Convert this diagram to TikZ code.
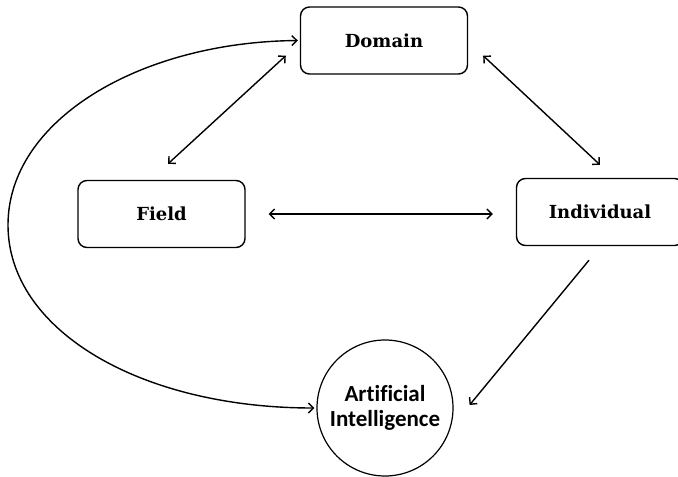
\documentclass[tikz,border=0pt]{standalone}
\usepackage{fontspec}
\usetikzlibrary{arrows.meta,calc}
\newfontfamily\boxfont{DejaVu Serif}
\newfontfamily\hubfont{Carlito}[Ligatures=NoCommon]
\tikzset{
    box/.style={draw, line width=1.4pt, rounded corners=9pt, minimum width=167pt, minimum height=67pt, inner sep=0pt, font=\boxfont\bfseries\fontsize{18}{20}\selectfont},
    hub/.style={draw, line width=1.2pt, circle, minimum size=136pt, inner sep=0pt, align=center, font=\hubfont\bfseries\fontsize{23}{25}\selectfont},
    link/.style={line width=1.4pt, {Straight Barb[length=5pt,width=10pt]}-{Straight Barb[length=5pt,width=10pt]}},
    onelink/.style={line width=1.4pt, -{Straight Barb[length=5pt,width=10pt]}}
}
\begin{document}
\begin{tikzpicture}[x=1pt,y=-1pt]
            \useasboundingbox (0,0) rectangle (678,477);
            \node[box] (domain) at (384,40.5) {Domain};
            \node[box] (field) at (161.5,214) {Field};
            \node[box] (individual) at (600,212) {Individual};
            \node[hub] (ai) at (385,408) {Artificial\\Intelligence};
            \coordinate (loopleft) at (8,225);
            \draw[link] ($(domain.south west)+(-14,-19)$) -- ($(field.north)+(6.5,-16)$);
            \draw[link] ($(domain.south east)+(15,-19)$) -- ($(individual.north)+(0,-13)$);
            \draw[link, shorten <=23pt, shorten >=23pt] (field.east) -- (field.east -| individual.west);
            \draw[onelink] ($(individual.south)+(-11,14)$) -- ($(ai.east)+(16,-3)$);
            \draw[link, shorten <=2pt, shorten >=2pt] (ai.west) .. controls (140,408) and (8,330) .. (loopleft) .. controls (8,120) and (140,42) .. (domain.west);
        \end{tikzpicture}
\end{document}
